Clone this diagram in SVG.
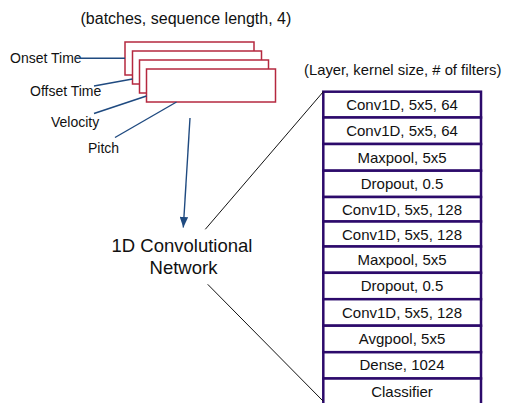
<svg xmlns="http://www.w3.org/2000/svg" width="506" height="403" viewBox="0 0 506 403">
<style>
text{font-family:"Liberation Sans",Arial,Helvetica,sans-serif;fill:#111}
.in{fill:#fff;stroke:#B5283F;stroke-width:1.5}
.row{fill:#fff;stroke:#2C0A6B;stroke-width:2.5}
.lbl{font-size:14px}
.cell{font-size:15px;text-anchor:middle}
.blue{stroke:#1F4A80;stroke-width:1.4;fill:none}
.blk{stroke:#111;stroke-width:1;fill:none}
</style>
<defs>
<marker id="ah" viewBox="0 0 10 10" refX="9" refY="5" markerWidth="7.5" markerHeight="7.5" markerUnits="userSpaceOnUse" orient="auto">
<path d="M0,0 L10,5 L0,10 z" fill="#1F4A80"/>
</marker>
<marker id="ah2" viewBox="0 0 10 8" refX="10" refY="4" markerWidth="11" markerHeight="8.5" markerUnits="userSpaceOnUse" orient="auto">
<path d="M0,0 L10,4 L0,8 z" fill="#1F4A80"/>
</marker>
</defs>
<text x="80.5" y="24" style="font-size:16px">(batches, sequence length, 4)</text>
<g id="input">
<rect class="in" x="125" y="42" width="129" height="33"/>
<rect class="in" x="132.5" y="51" width="129" height="33"/>
<rect class="in" x="139.5" y="60" width="129" height="33"/>
<rect class="in" x="146.5" y="69" width="129" height="33"/>
</g>
<g id="labels">
<text class="lbl" x="10" y="63">Onset Time</text>
<text class="lbl" x="30" y="96">Offset Time</text>
<text class="lbl" x="51" y="127">Velocity</text>
<text class="lbl" x="88" y="153">Pitch</text>
</g>
<g id="cnn">
<text x="182" y="252" style="font-size:18.5px;text-anchor:middle">1D Convolutional</text>
<text x="183.5" y="274" style="font-size:18.5px;text-anchor:middle">Network</text>
</g>
<text x="304" y="75" style="font-size:14.8px">(Layer, kernel size, # of filters)</text>
<g id="stack">
<rect class="row" x="323.3" y="91.7" width="157.7" height="25.8"/>
<rect class="row" x="323.3" y="117.5" width="157.7" height="26.5"/>
<rect class="row" x="323.3" y="144" width="157.7" height="26.7"/>
<rect class="row" x="323.3" y="170.7" width="157.7" height="26.3"/>
<rect class="row" x="323.3" y="197" width="157.7" height="24.5"/>
<rect class="row" x="323.3" y="221.5" width="157.7" height="25"/>
<rect class="row" x="323.3" y="246.5" width="157.7" height="26.3"/>
<rect class="row" x="323.3" y="272.8" width="157.7" height="26.4"/>
<rect class="row" x="323.3" y="299.2" width="157.7" height="26.5"/>
<rect class="row" x="323.3" y="325.7" width="157.7" height="26.5"/>
<rect class="row" x="323.3" y="352.2" width="157.7" height="26.3"/>
<rect class="row" x="323.3" y="378.5" width="157.7" height="30"/>
<text class="cell" x="402" y="110">Conv1D, 5x5, 64</text>
<text class="cell" x="402" y="136">Conv1D, 5x5, 64</text>
<text class="cell" x="402" y="162.5">Maxpool, 5x5</text>
<text class="cell" x="402" y="189">Dropout, 0.5</text>
<text class="cell" x="402" y="214.5">Conv1D, 5x5, 128</text>
<text class="cell" x="402" y="239.5">Conv1D, 5x5, 128</text>
<text class="cell" x="402" y="264.5">Maxpool, 5x5</text>
<text class="cell" x="402" y="291">Dropout, 0.5</text>
<text class="cell" x="402" y="317.5">Conv1D, 5x5, 128</text>
<text class="cell" x="402" y="344">Avgpool, 5x5</text>
<text class="cell" x="402" y="370">Dense, 1024</text>
<text class="cell" x="402" y="396.5">Classifier</text>
</g>
<g id="connectors">
<line class="blue" x1="75" y1="58.3" x2="125" y2="58.3"/>
<line class="blue" x1="94" y1="86" x2="132.5" y2="79"/>
<line class="blue" x1="94" y1="113.5" x2="146.5" y2="96"/>
<line class="blue" x1="115" y1="137.5" x2="176.5" y2="102"/>
<line class="blue" x1="190" y1="118" x2="183.3" y2="227.5" marker-end="url(#ah2)"/>
<line class="blk" x1="205.3" y1="229.3" x2="323.3" y2="91.7"/>
<line class="blk" x1="207.7" y1="284.3" x2="323" y2="401"/>
</g>
</svg>
